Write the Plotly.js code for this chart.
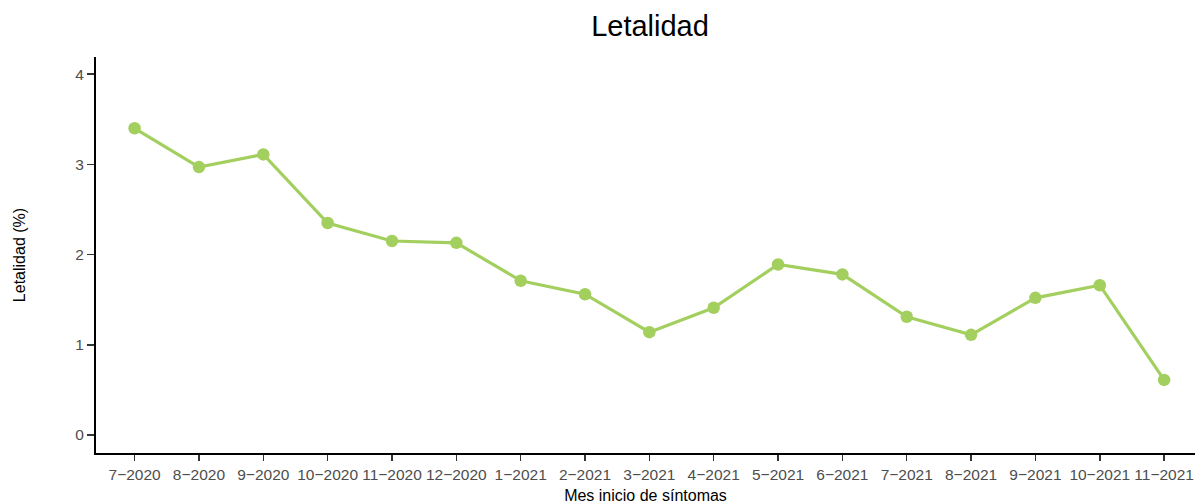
<!DOCTYPE html>
<html>
<head>
<meta charset="utf-8">
<script src="https://cdn.plot.ly/plotly-3.0.1.min.js"></script>
<style>html,body{margin:0;padding:0;background:#fff;}#chart{width:1195px;height:504px;}</style>
</head>
<body>
<div id="chart"></div>
<script>
const months = ["7\u22122020","8\u22122020","9\u22122020","10\u22122020","11\u22122020","12\u22122020","1\u22122021","2\u22122021","3\u22122021","4\u22122021","5\u22122021","6\u22122021","7\u22122021","8\u22122021","9\u22122021","10\u22122021","11\u22122021"];
const letalidad = [3.40, 2.97, 3.11, 2.35, 2.15, 2.13, 1.71, 1.56, 1.14, 1.41, 1.89, 1.78, 1.31, 1.11, 1.52, 1.66, 0.61];
const yTicks = [0, 1, 2, 3, 4];

const trace = {
  x: months,
  y: letalidad,
  type: 'scatter',
  mode: 'lines+markers',
  line: {color: '#A3CF5F', width: 3.2},
  marker: {color: '#A3CF5F', size: 12.5},
  cliponaxis: false,
  hoverinfo: 'x+y'
};

const layout = {
  width: 1195, height: 504,
  margin: {l: 96, r: 0, t: 57, b: 51},
  paper_bgcolor: '#fff', plot_bgcolor: '#fff',
  font: {family: 'Liberation Sans, Arial, sans-serif'},
  showlegend: false,
  title: {text: 'Letalidad', font: {size: 29, color: '#000'}, xref: 'container', x: 650/1195, xanchor: 'center', yref: 'container', y: 1 - 26/504, yanchor: 'middle'},
  xaxis: {
    type: 'category',
    categoryorder: 'array', categoryarray: months,
    range: [-0.6, 16.48],
    showgrid: false, zeroline: false,
    showline: true, linecolor: '#000', linewidth: 2,
    ticks: 'outside', ticklen: 6, tickwidth: 1.5, tickcolor: '#333',
    tickfont: {size: 15.5, color: '#4D4D4D'},
    title: {text: 'Mes inicio de síntomas', font: {size: 16, color: '#000'}, standoff: 8},
    automargin: false
  },
  yaxis: {
    range: [-0.2, 4.19],
    tickvals: yTicks,
    showgrid: false, zeroline: false,
    showline: true, linecolor: '#000', linewidth: 2,
    ticks: 'outside', ticklen: 7, tickwidth: 1.5, tickcolor: '#333',
    tickfont: {size: 15.5, color: '#4D4D4D'},
    title: {text: 'Letalidad (%)', font: {size: 16, color: '#000'}, standoff: 46},
    automargin: false
  }
};

Plotly.newPlot('chart', [trace], layout, {displayModeBar: false, staticPlot: true});
</script>
</body>
</html>
